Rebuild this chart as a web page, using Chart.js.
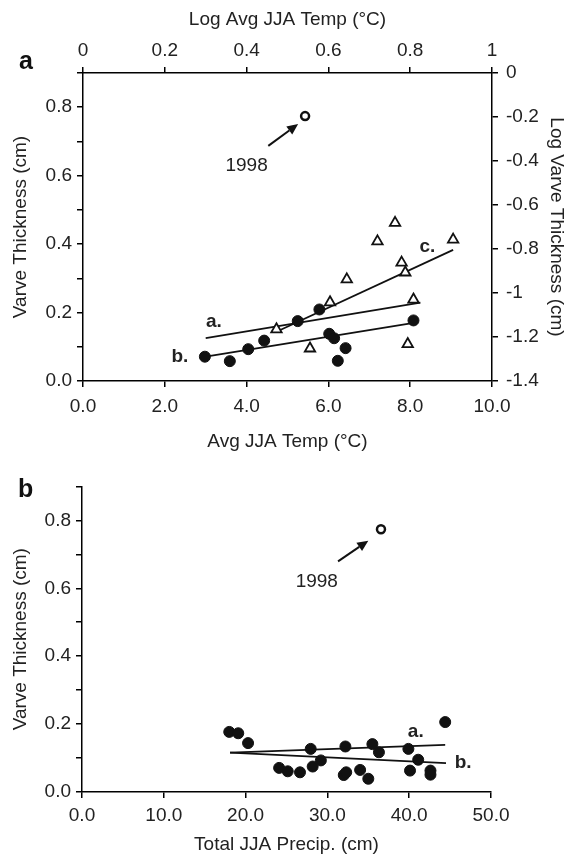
<!DOCTYPE html>
<html><head><meta charset="utf-8">
<script src="https://cdn.jsdelivr.net/npm/chart.js@4"></script>
<style>
body{margin:0;background:#fff;}
#wrap{position:relative;width:577px;height:859px;font-family:"Liberation Sans",Arial,sans-serif;}
canvas{position:absolute;left:0;}
.pl{position:absolute;font-weight:bold;font-size:25px;color:#111;line-height:1;}
</style></head><body>
<div id="wrap">
<canvas id="ca" width="577" height="470" style="top:0"></canvas>
<canvas id="cb" width="577" height="389" style="top:470px"></canvas>
<div class="pl" style="left:19px;top:48px">a</div>
<div class="pl" style="left:18px;top:476px">b</div>
</div>
<script>
// ---- Panel a data (Avg JJA Temp vs Varve Thickness) ----
const tempCircleX = [2.98, 3.59, 4.04, 4.43, 5.25, 5.78, 6.02, 6.14, 6.42, 6.23, 8.08];
const tempCircleY = [0.071, 0.058, 0.093, 0.118, 0.175, 0.209, 0.138, 0.125, 0.096, 0.059, 0.177];
const tempTriX = [4.73, 5.55, 6.04, 6.45, 7.20, 7.63, 7.79, 7.88, 8.08, 7.94, 9.05];
const tempTriY = [0.151, 0.095, 0.230, 0.297, 0.408, 0.462, 0.346, 0.317, 0.238, 0.108, 0.413];
const tempOutlierX = [5.43];
const tempOutlierY = [0.774];
const fitTempAX = [3.0, 8.25], fitTempAY = [0.125, 0.229];
const fitTempBX = [3.0, 8.05], fitTempBY = [0.071, 0.169];
const fitTempCX = [4.73, 9.05], fitTempCY = [0.144, 0.383];

// ---- Panel b data (Total JJA Precip vs Varve Thickness) ----
const precipX = [18.0, 19.1, 20.3, 24.1, 25.15, 26.65, 27.96, 28.2, 29.2, 32.0, 32.3, 32.2, 34.0, 35.0, 35.5, 36.3, 39.9, 40.1, 41.1, 42.6, 42.6, 44.4];
const precipY = [0.177, 0.173, 0.144, 0.071, 0.061, 0.058, 0.127, 0.075, 0.093, 0.050, 0.058, 0.134, 0.065, 0.039, 0.141, 0.117, 0.127, 0.063, 0.095, 0.063, 0.051, 0.206];
const precipOutlierX = [36.55];
const precipOutlierY = [0.774];
const fitPrecipAX = [18.1, 44.4], fitPrecipAY = [0.116, 0.139];
const fitPrecipBX = [18.1, 44.5], fitPrecipBY = [0.116, 0.085];

// ---- Tick values ----
const tempTicks = [0, 2, 4, 6, 8, 10];
const logTempTicks = [0, 0.2, 0.4, 0.6, 0.8, 1];
const thickTicks = [0, 0.1, 0.2, 0.3, 0.4, 0.5, 0.6, 0.7, 0.8, 0.9];
const logThickTicks = [-1.4, -1.2, -1, -0.8, -0.6, -0.4, -0.2, 0];
const precipTicks = [0, 10, 20, 30, 40, 50];

// ---- Annotations (data coordinates) ----
const annotTextA = ['1998', 'a.', 'b.', 'c.'];
const annotXA = [4.0, 3.2, 2.37, 8.42];
const annotYA = [0.629, 0.173, 0.07, 0.393];
const annotBoldA = [false, true, true, true];
const arrowA = [4.53, 0.687, 5.26, 0.751];
const annotTextB = ['1998', 'a.', 'b.'];
const annotXB = [28.7, 40.8, 46.6];
const annotYB = [0.62, 0.177, 0.086];
const annotBoldB = [false, true, true];
const arrowB = [31.3, 0.679, 35.0, 0.740];

const FONT = '"Liberation Sans", Arial, sans-serif';
const TXT = '#222';
const zip = (xs, ys) => xs.map((x, i) => ({x, y: ys[i]}));

function fixed(arr) { return s => { s.ticks = arr.map(v => ({value: v})); }; }
function axisCommon(extra) {
  return Object.assign({
    type: 'linear',
    grid: {display: true, drawOnChartArea: false, drawTicks: true, tickLength: 6, color: '#000', lineWidth: 1.5},
    border: {display: true, color: '#000', width: 1.5},
    ticks: {font: {family: FONT, size: 19}, color: TXT, autoSkip: false, maxRotation: 0, minRotation: 0}
  }, extra);
}

function annotPlugin(texts, xs, ys, bolds, arrow) {
  return {
    id: 'annot',
    afterDatasetsDraw(chart) {
      const ctx = chart.ctx, sx = chart.scales.x, sy = chart.scales.y;
      ctx.save();
      ctx.fillStyle = TXT;
      ctx.textAlign = 'center';
      ctx.textBaseline = 'middle';
      texts.forEach((t, i) => {
        ctx.font = (bolds[i] ? 'bold ' : '') + '19px ' + FONT;
        ctx.fillText(t, sx.getPixelForValue(xs[i]), sy.getPixelForValue(ys[i]));
      });
      const x1 = sx.getPixelForValue(arrow[0]), y1 = sy.getPixelForValue(arrow[1]);
      const x2 = sx.getPixelForValue(arrow[2]), y2 = sy.getPixelForValue(arrow[3]);
      const ang = Math.atan2(y2 - y1, x2 - x1);
      const hl = 11, hw = 5;
      const bx = x2 - hl * Math.cos(ang), by = y2 - hl * Math.sin(ang);
      ctx.strokeStyle = '#111';
      ctx.lineWidth = 2;
      ctx.beginPath(); ctx.moveTo(x1, y1); ctx.lineTo(bx, by); ctx.stroke();
      ctx.fillStyle = '#111';
      ctx.beginPath();
      ctx.moveTo(x2, y2);
      ctx.lineTo(bx + hw * Math.sin(ang), by - hw * Math.cos(ang));
      ctx.lineTo(bx - hw * Math.sin(ang), by + hw * Math.cos(ang));
      ctx.closePath(); ctx.fill();
      ctx.restore();
    }
  };
}

const ptCircle = {pointStyle: 'circle', pointRadius: 5.5, backgroundColor: '#111', borderColor: '#111', borderWidth: 1, showLine: false, order: 1};
const ptOpen = {pointStyle: 'circle', pointRadius: 4, backgroundColor: '#fff', borderColor: '#111', borderWidth: 2.5, showLine: false, order: 1};
const ptTri = {pointStyle: 'triangle', pointRadius: 6, backgroundColor: '#fff', borderColor: '#111', borderWidth: 1.8, showLine: false, order: 1};
const fitLine = {showLine: true, pointRadius: 0, borderColor: '#111', borderWidth: 1.8, fill: false, order: 10};

new Chart(document.getElementById('ca'), {
  type: 'scatter',
  data: {datasets: [
    Object.assign({label: 'circles', data: zip(tempCircleX, tempCircleY)}, ptCircle),
    Object.assign({label: 'triangles', data: zip(tempTriX, tempTriY)}, ptTri),
    Object.assign({label: '1998', data: zip(tempOutlierX, tempOutlierY)}, ptOpen),
    Object.assign({label: 'a', data: zip(fitTempAX, fitTempAY)}, fitLine),
    Object.assign({label: 'b', data: zip(fitTempBX, fitTempBY)}, fitLine),
    Object.assign({label: 'c', data: zip(fitTempCX, fitTempCY)}, fitLine)
  ]},
  options: {
    responsive: false, animation: false, devicePixelRatio: 1,
    layout: {padding: 0},
    plugins: {legend: {display: false}, tooltip: {enabled: false}},
    scales: {
      x: axisCommon({position: 'bottom', min: 0, max: 10, afterBuildTicks: fixed(tempTicks),
        afterFit: s => { s.height = 89; },
        ticks: Object.assign(axisCommon().ticks, {padding: 8, callback: v => Number(v).toFixed(1)}),
        title: {display: true, text: 'Avg JJA Temp (°C)', color: TXT, font: {family: FONT, size: 19}, padding: {top: 0, bottom: 17}}}),
      x2: axisCommon({position: 'top', min: 0, max: 1, afterBuildTicks: fixed(logTempTicks),
        afterFit: s => { s.height = 73; },
        ticks: Object.assign(axisCommon().ticks, {padding: 5, callback: v => String(Math.round(v * 10) / 10)}),
        title: {display: true, text: 'Log Avg JJA Temp (°C)', color: TXT, font: {family: FONT, size: 19}, padding: {top: 8, bottom: 0}}}),
      y: axisCommon({position: 'left', min: 0, max: 0.9, afterBuildTicks: fixed(thickTicks),
        afterFit: s => { s.width = 83; },
        ticks: Object.assign(axisCommon().ticks, {padding: 5, callback: v => (Math.round(v * 10) % 2 === 0 ? Number(v).toFixed(1) : '')}),
        title: {display: true, text: 'Varve Thickness (cm)', color: TXT, font: {family: FONT, size: 19}, padding: {top: 9, bottom: 0}}}),
      y2: axisCommon({position: 'right', min: -1.4, max: 0, afterBuildTicks: fixed(logThickTicks),
        afterFit: s => { s.width = 85; },
        ticks: Object.assign(axisCommon().ticks, {padding: 8, callback: v => String(Math.round(v * 10) / 10)}),
        title: {display: true, text: 'Log Varve Thickness (cm)', color: TXT, font: {family: FONT, size: 19}, padding: {top: 9, bottom: 0}}})
    }
  },
  plugins: [annotPlugin(annotTextA, annotXA, annotYA, annotBoldA, arrowA)]
});

new Chart(document.getElementById('cb'), {
  type: 'scatter',
  data: {datasets: [
    Object.assign({label: 'circles', data: zip(precipX, precipY)}, ptCircle),
    Object.assign({label: '1998', data: zip(precipOutlierX, precipOutlierY)}, ptOpen),
    Object.assign({label: 'a', data: zip(fitPrecipAX, fitPrecipAY)}, fitLine),
    Object.assign({label: 'b', data: zip(fitPrecipBX, fitPrecipBY)}, fitLine)
  ]},
  options: {
    responsive: false, animation: false, devicePixelRatio: 1,
    layout: {padding: {top: 13, right: 86, left: 0, bottom: 0}},
    plugins: {legend: {display: false}, tooltip: {enabled: false}},
    scales: {
      x: axisCommon({position: 'bottom', min: 0, max: 50, afterBuildTicks: fixed(precipTicks),
        afterFit: s => { s.height = 67; },
        ticks: Object.assign(axisCommon().ticks, {padding: 6, callback: v => Number(v).toFixed(1)}),
        title: {display: true, text: 'Total JJA Precip. (cm)', color: TXT, font: {family: FONT, size: 19}, padding: {top: 0, bottom: 3}}}),
      y: axisCommon({position: 'left', min: 0, max: 0.9, afterBuildTicks: fixed(thickTicks),
        afterFit: s => { s.width = 82; },
        ticks: Object.assign(axisCommon().ticks, {padding: 5, callback: v => (Math.round(v * 10) % 2 === 0 ? Number(v).toFixed(1) : '')}),
        title: {display: true, text: 'Varve Thickness (cm)', color: TXT, font: {family: FONT, size: 19}, padding: {top: 9, bottom: 0}}})
    }
  },
  plugins: [annotPlugin(annotTextB, annotXB, annotYB, annotBoldB, arrowB)]
});
</script>
</body></html>
